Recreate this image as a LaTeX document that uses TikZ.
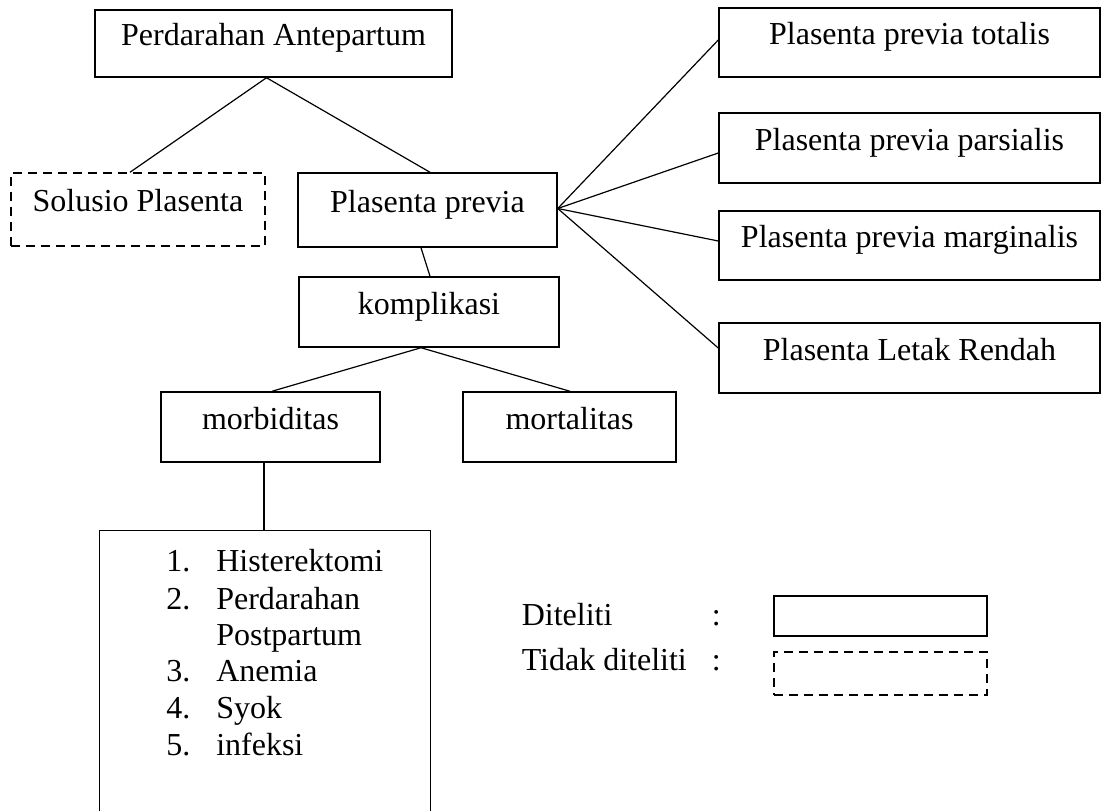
\documentclass[tikz,border=0pt]{standalone}
\usepackage{fontspec}
\setmainfont{Liberation Serif}
\usetikzlibrary{calc}
\begin{document}
\begin{tikzpicture}[x=0.75pt,y=-0.75pt,
  txt/.style={font=\fontsize{24pt}{27.6pt}\selectfont},
  box/.style={txt,draw,line width=1.1pt,rectangle,inner sep=0pt,text height=0.65em,text depth=0.34em},
  dbox/.style={box,dash pattern=on 6.75pt off 4.5pt},
  sz/.style 2 args={minimum width=#1*0.75pt,minimum height=#2*0.75pt},
  conn/.style={line width=0.9pt},
  item/.style={txt,inner sep=0pt,anchor=base west}]
\useasboundingbox (0,0) rectangle (1102,810);
% main boxes
\node[box,sz={357}{67}] (pa) at (273.5,43.5) {Perdarahan Antepartum};
\node[dbox,sz={254}{73}] (sp) at (138,209.5) {Solusio Plasenta};
\node[box,sz={259}{74}] (pp) at (427.5,210) {Plasenta previa};
\node[box,sz={260}{70}] (kom) at (429,312) {komplikasi};
\node[box,sz={219}{70}] (morb) at (270.5,427) {morbiditas};
\node[box,sz={213}{70}] (mort) at (569.5,427) {mortalitas};
% right boxes
\node[box,sz={381}{69}] (r1) at (909.5,42.5) {Plasenta previa totalis};
\node[box,sz={381}{70}] (r2) at (909.5,148) {Plasenta previa parsialis};
\node[box,sz={381}{69}] (r3) at (909.5,245.5) {Plasenta previa marginalis};
\node[box,sz={381}{70}] (r4) at (909.5,358) {Plasenta Letak Rendah};
% list box (open at the bottom edge of the picture)
\node[draw=none,inner sep=0pt,sz={330}{281}] (list) at (265,671.5) {};
\draw[line width=1.1pt] (list.south west) -- (list.north west) -- (list.north east) -- (list.south east);
\node[item] (l1) at (166,571) {\makebox[37.5pt][l]{1.}Histerektomi};
\node[item] (l2) at (166,609) {\makebox[37.5pt][l]{2.}Perdarahan};
\node[item] (l3) at (166,645) {\makebox[37.5pt][l]{}Postpartum};
\node[item] (l4) at (166,681) {\makebox[37.5pt][l]{3.}Anemia};
\node[item] (l5) at (166,718) {\makebox[37.5pt][l]{4.}Syok};
\node[item] (l6) at (166,755) {\makebox[37.5pt][l]{5.}infeksi};
% legend
\node[item] (lg1) at (521.5,625) {Diteliti};
\node[item] (lc1) at (711.5,625) {:};
\node[item] (lg2) at (521.5,670.5) {Tidak diteliti};
\node[item] (lc2) at (711.5,670.5) {:};
\node[box,sz={213}{40}] (k1) at (880.5,616) {};
\node[dbox,sz={213}{43}] (k2) at (880.5,673.5) {};
% connectors
\coordinate (paj) at ($(pa.south)+(-7,0)$);
\draw[conn] (paj) -- ($(sp.north)+(-8,0)$);
\draw[conn] (paj) -- ($(pp.north)+(2.5,0)$);
\coordinate (ppj) at ($(pp.east)+(0,-1.5)$);
\draw[conn] (ppj) -- ($(r1.west)+(0,-2.5)$);
\draw[conn] (ppj) -- ($(r2.west)+(0,5)$);
\draw[conn] (ppj) -- ($(r3.west)+(0,-4.5)$);
\draw[conn] (ppj) -- ($(r4.west)+(0,-10)$);
\draw[conn] ($(pp.south)+(-6.5,0)$) -- ($(kom.north)+(1,0)$);
\coordinate (kj) at ($(kom.south)+(-8,0)$);
\draw[conn] (kj) -- ($(morb.north)+(1.5,0)$);
\draw[conn] (kj) -- ($(mort.north)+(0.5,0)$);
\coordinate (mj) at ($(morb.south)+(-6.5,0)$);
\draw[conn] (mj) -- (mj |- list.north);
\end{tikzpicture}
\end{document}
